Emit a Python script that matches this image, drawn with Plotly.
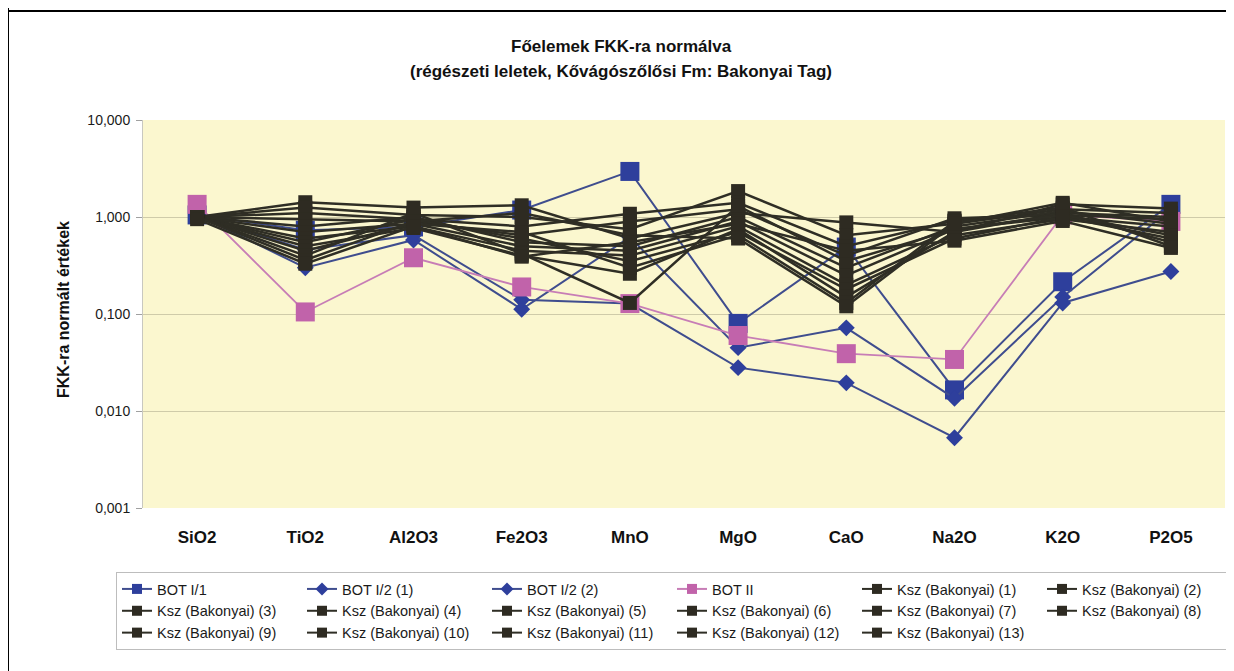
import plotly.graph_objects as go

categories = ["SiO2", "TiO2", "Al2O3", "Fe2O3", "MnO", "MgO", "CaO", "Na2O", "K2O", "P2O5"]

bot_i1 = [1.05, 0.73, 0.79, 1.18, 2.95, 0.080, 0.49, 0.0165, 0.215, 1.35]
bot_i2_1 = [1.05, 0.30, 0.58, 0.112, 0.62, 0.045, 0.072, 0.0135, 0.150, 1.20]
bot_i2_2 = [1.05, 0.46, 0.65, 0.140, 0.128, 0.028, 0.0195, 0.0053, 0.130, 0.274]
bot_ii = [1.35, 0.105, 0.38, 0.19, 0.128, 0.060, 0.039, 0.034, 1.05, 0.90]

ksz_names = [f"Ksz (Bakonyai) ({i})" for i in range(1, 14)]
ksz_values = [
    [1.00, 1.42, 1.25, 1.32, 0.60, 1.10, 0.88, 0.70, 1.35, 1.22],
    [1.00, 1.25, 1.05, 1.00, 0.75, 1.85, 0.65, 0.85, 1.20, 1.10],
    [1.00, 1.10, 0.95, 0.80, 1.08, 1.40, 0.50, 0.92, 1.10, 1.00],
    [1.00, 0.95, 0.90, 0.65, 0.90, 1.20, 0.40, 0.97, 1.05, 0.95],
    [1.00, 0.80, 1.00, 0.55, 0.50, 1.00, 0.30, 0.80, 1.15, 0.85],
    [1.00, 0.70, 0.85, 0.50, 0.45, 0.90, 0.25, 0.75, 1.00, 0.80],
    [1.00, 0.60, 0.80, 0.45, 0.40, 0.80, 0.20, 0.65, 0.95, 0.70],
    [1.00, 0.55, 0.95, 0.60, 0.35, 0.70, 0.18, 0.60, 1.00, 0.60],
    [1.00, 0.50, 0.77, 0.40, 0.26, 0.75, 0.15, 0.70, 1.10, 0.55],
    [1.00, 0.45, 0.85, 0.70, 0.30, 0.65, 0.13, 0.90, 1.25, 0.50],
    [1.00, 0.40, 1.10, 0.42, 0.13, 1.30, 0.35, 0.75, 1.05, 0.65],
    [1.00, 0.36, 0.90, 1.10, 0.65, 0.60, 0.12, 0.85, 1.40, 0.90],
    [0.95, 0.33, 0.80, 0.39, 0.55, 0.85, 0.45, 0.57, 0.91, 0.48],
]

ytick_vals = [0.001, 0.01, 0.1, 1, 10]
ytick_text = ["0,001", "0,010", "0,100", "1,000", "10,000"]

FONT = "Liberation Sans, Arial, sans-serif"
BLUE_M = "#2E3F9C"
BLUE_L = "#3F4D8E"
PINK_M = "#C163AA"
PINK_L = "#C77DB6"
DARK_M = "#2E2B22"
DARK_L = "#2F2E25"

# page has an 8px body margin: figure coordinates = page coordinates - 8
OFF = 8
W, H = 1234 - OFF, 671 - OFF
PL, PR, PT, PB = 143, 1225, 120, 508          # plot area in page pixels
L, R, T, B = PL - OFF, W - (PR - OFF), PT - OFF, H - (PB - OFF)
PW, PH = W - L - R, H - T - B


def xp(px):  # page px -> paper x
    return (px - OFF - L) / PW


def yp(py):  # page px -> paper y
    return (H - B - (py - OFF)) / PH


series = [
    ("BOT I/1", bot_i1, "square", 19, BLUE_M, BLUE_L, 2),
    ("BOT I/2 (1)", bot_i2_1, "diamond", 13, BLUE_M, BLUE_L, 2),
    ("BOT I/2 (2)", bot_i2_2, "diamond", 13, BLUE_M, BLUE_L, 2),
    ("BOT II", bot_ii, "square", 19, PINK_M, PINK_L, 1.8),
]
for n, v in zip(ksz_names, ksz_values):
    series.append((n, v, "square", 14, DARK_M, DARK_L, 2.5))

fig = go.Figure()
for name, vals, sym, size, mc, lc, lw in series:
    fig.add_trace(go.Scatter(
        x=categories, y=vals, mode="lines+markers", name=name,
        legendgroup=name, showlegend=False,
        line=dict(color=lc, width=lw),
        marker=dict(symbol=sym, size=size, color=mc, line=dict(width=0)),
    ))
# legend entries (smaller symbols as in the original legend)
for name, vals, sym, size, mc, lc, lw in series:
    fig.add_trace(go.Scatter(
        x=[None], y=[None], mode="lines+markers", name=name,
        legendgroup=name, showlegend=True,
        line=dict(color=lc, width=2),
        marker=dict(symbol=sym, size=10, color=mc, line=dict(width=0)),
    ))

TITLE_FONT = dict(family=FONT, size=17, weight="bold", color="#111111")

fig.update_layout(
    width=W, height=H,
    margin=dict(l=L, r=R, t=T, b=B, pad=0),
    paper_bgcolor="white",
    plot_bgcolor="#FBF7CF",
    font=dict(family=FONT, color="#1a1a1a"),
    showlegend=True,
    legend=dict(
        orientation="h", x=xp(116), y=yp(572), xanchor="left", yanchor="top",
        bgcolor="white", bordercolor="#BDBDBD", borderwidth=1,
        font=dict(family=FONT, size=14.5, color="#1a1a1a"),
        entrywidth=140, traceorder="normal", itemwidth=30,
    ),
    xaxis=dict(
        type="category", categoryorder="array", categoryarray=categories,
        showgrid=False, zeroline=False, showline=False,
        ticks="", ticklabelstandoff=17,
        tickfont=dict(family=FONT, size=17, weight="bold", color="#111111"),
        range=[-0.5, len(categories) - 0.5],
    ),
    yaxis=dict(
        type="log", range=[-3, 1],
        tickvals=ytick_vals, ticktext=ytick_text,
        showgrid=True, gridcolor="#CFCBA9", gridwidth=1,
        zeroline=False, showline=True, linecolor="#C8C8C0", linewidth=1,
        ticks="outside", ticklen=6, tickcolor="#A0A0A0",
        ticklabelstandoff=3,
        tickfont=dict(family=FONT, size=14, color="#1a1a1a"),
    ),
    annotations=[
        dict(text="Főelemek FKK-ra normálva", x=xp(621), y=yp(46), xref="paper", yref="paper",
             showarrow=False, font=TITLE_FONT, xanchor="center", yanchor="middle"),
        dict(text="(régészeti leletek, Kővágószőlősi Fm: Bakonyai Tag)", x=xp(621), y=yp(71),
             xref="paper", yref="paper", showarrow=False, font=TITLE_FONT,
             xanchor="center", yanchor="middle"),
        dict(text="FKK-ra normált értékek", x=xp(63), y=yp(310), xref="paper", yref="paper",
             showarrow=False, textangle=-90,
             font=dict(family=FONT, size=16, weight="bold", color="#111111"),
             xanchor="center", yanchor="middle"),
    ],
    shapes=[
        dict(type="line", xref="paper", yref="paper", x0=xp(8), x1=xp(8), y0=yp(0), y1=yp(680),
             line=dict(color="black", width=2)),
        dict(type="line", xref="paper", yref="paper", x0=xp(8), x1=xp(1240), y0=yp(11), y1=yp(11),
             line=dict(color="black", width=2)),
    ],
)

fig.write_html("out.html")
